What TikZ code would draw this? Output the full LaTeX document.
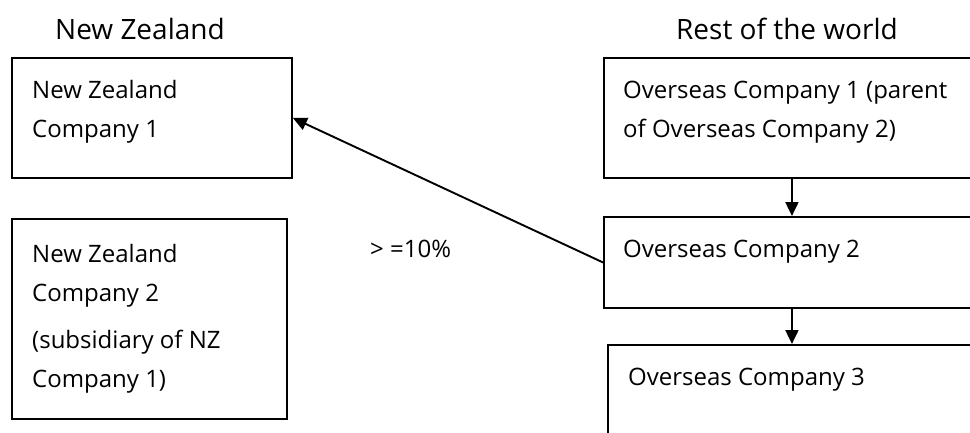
\documentclass[tikz,border=0pt]{standalone}
\usepackage{fontspec}
\setmainfont{Open Sans}
\usetikzlibrary{arrows.meta,positioning}

\tikzset{
  cobox/.style={draw, line width=1.9pt, anchor=north west, inner sep=0pt},
  cotext/.style={anchor=base west, align=left, inner sep=0pt, font=\fontsize{24}{39}\selectfont},
  cohead/.style={anchor=base, inner sep=0pt, font=\fontsize{28}{32}\selectfont},
  colink/.style={line width=1.9pt, -{Triangle[length=14pt, width=13pt]}}
}

\begin{document}
\begin{tikzpicture}[x=1pt, y=-1pt]
  \useasboundingbox (0,0) rectangle (970,432);

  % ---- column headings ----
  \node[cohead] (hNZ) at (140,39) {New Zealand};
  \node[cohead] (hRW) at (787,39) {Rest of the world};

  % ---- New Zealand side (base = last line) ----
  \node[cobox, minimum width=280pt, minimum height=120pt] (nz1) at (11,57) {};
  \node[cotext] (tNZa) at (32,137) {New Zealand\\Company 1};

  \node[cobox, minimum width=275pt, minimum height=200pt] (nz2) at (11,218) {};
  \node[cotext] (tNZb) at (32,387) {New Zealand\\Company 2\\[8pt](subsidiary of NZ\\Company 1)};

  % ---- rest of the world (boxes run past the right edge) ----
  \node[cobox, minimum width=376pt, minimum height=120pt] (oc1) at (603,57) {};
  \node[cotext] (tOCa) at (623,137) {Overseas Company 1 (parent\\of Overseas Company 2)};

  \node[cobox, minimum width=376pt, minimum height=91pt] (oc2) at (603,216) {};
  \node[cotext] (tOCb) at (623,257) {Overseas Company 2};

  \node[cobox, minimum width=368pt, minimum height=110pt] (oc3) at (607,344) {};
  \node[cotext] (tOCc) at (628,385) {Overseas Company 3};

  % ---- ownership links ----
  \draw[colink] (oc1.south) -- (oc2.north);
  \draw[colink] (oc2.south) -- (oc3.north);
  \draw[colink] (oc2.west) -- (nz1.east);

  \node[cotext] (pct) at (370,257) {> =10\%};

\end{tikzpicture}
\end{document}
